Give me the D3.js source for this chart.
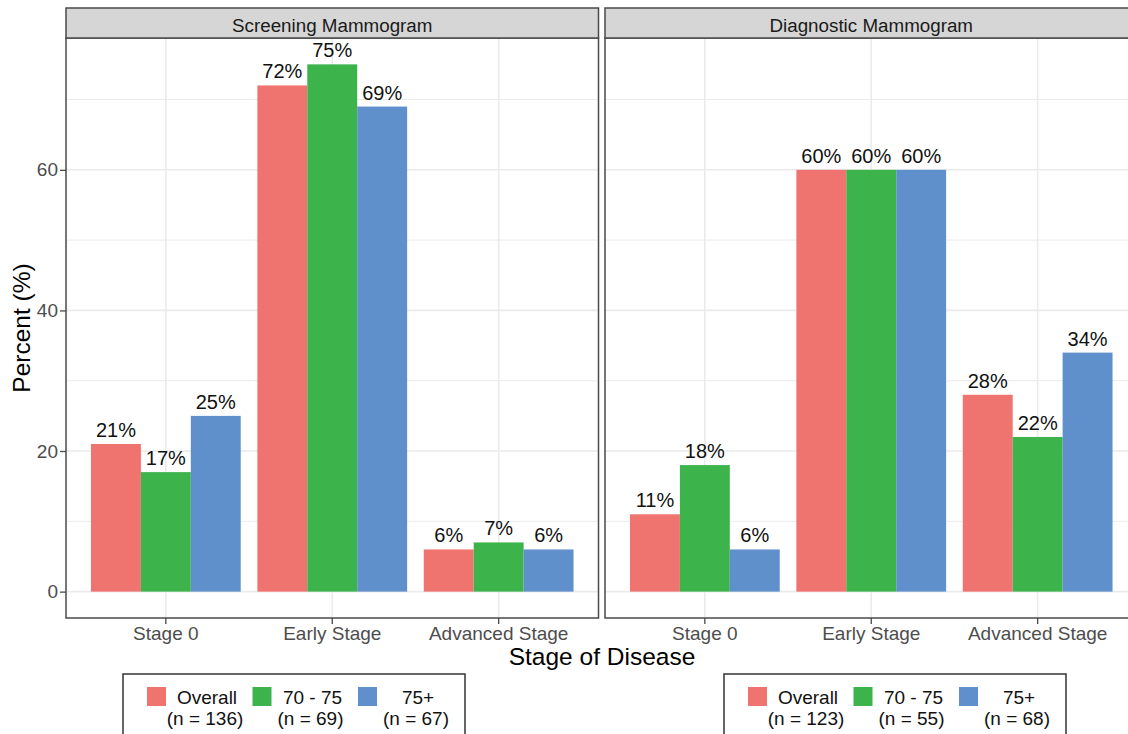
<!DOCTYPE html>
<html>
<head>
<meta charset="utf-8">
<script src="https://cdn.jsdelivr.net/npm/d3@7"></script>
<style>
  html, body { margin: 0; padding: 0; background: #fff; }
  svg { display: block; font-family: "Liberation Sans", Arial, sans-serif; }
</style>
</head>
<body>
<svg id="chart" width="1128" height="734"></svg>
<script>
// ---- data ----
const stages = ["Stage 0", "Early Stage", "Advanced Stage"];
const ageGroups = ["Overall", "70 - 75", "75+"];
const groupColors = ["#EF746F", "#3CB44B", "#6090CB"];
const yTicks = [0, 20, 40, 60];
const yMinorTicks = [10, 30, 50, 70];

const panelTitles = ["Screening Mammogram", "Diagnostic Mammogram"];
// percent per stage, one array per age group
const screeningOverall = [21, 72, 6];
const screening7075 = [17, 75, 7];
const screening75plus = [25, 69, 6];
const diagnosticOverall = [11, 60, 28];
const diagnostic7075 = [18, 60, 22];
const diagnostic75plus = [6, 60, 34];
// sample sizes shown in each legend
const screeningN = [136, 69, 67];
const diagnosticN = [123, 55, 68];

const panels = [
  { title: panelTitles[0], series: [screeningOverall, screening7075, screening75plus], n: screeningN },
  { title: panelTitles[1], series: [diagnosticOverall, diagnostic7075, diagnostic75plus], n: diagnosticN }
];

// ---- layout ----
const svg = d3.select("#chart");
const stripTop = 8, panelTop = 38, panelBottom = 618;
const panelWidth = 532.5;
const panelLefts = [66, 605];
const legendCenters = [294, 895];
const legendTop = 674;

const yMax = d3.max(panels.flatMap(p => p.series.flat()));
const yPad = yMax * 0.05;
const y = d3.scaleLinear().domain([-yPad, yMax + yPad]).range([panelBottom, panelTop]);

const inkAxis = "#4D4D4D";
const gridCol = "#EBEBEB";
const borderCol = "#4A4A4A";

panels.forEach((p, pi) => {
  const x0 = panelLefts[pi], x1 = x0 + panelWidth;
  const x = d3.scaleBand().domain(stages).range([x0, x1]).paddingInner(0.1).paddingOuter(0.15);
  const xg = d3.scaleBand().domain(ageGroups).range([0, x.bandwidth()]);
  const center = s => x(s) + x.bandwidth() / 2;

  const g = svg.append("g");

  // gridlines
  g.selectAll(".minor").data(yMinorTicks).join("line")
    .attr("x1", x0).attr("x2", x1).attr("y1", d => y(d)).attr("y2", d => y(d))
    .attr("stroke", gridCol).attr("stroke-width", 1);
  g.selectAll(".major").data(yTicks).join("line")
    .attr("x1", x0).attr("x2", x1).attr("y1", d => y(d)).attr("y2", d => y(d))
    .attr("stroke", gridCol).attr("stroke-width", 1.6);
  g.selectAll(".vmajor").data(stages).join("line")
    .attr("x1", d => center(d)).attr("x2", d => center(d)).attr("y1", panelTop).attr("y2", panelBottom)
    .attr("stroke", gridCol).attr("stroke-width", 1.6);

  // bars
  const rows = [];
  p.series.forEach((vals, gi) => vals.forEach((v, si) => rows.push({ stage: stages[si], group: ageGroups[gi], gi, v })));
  g.selectAll("rect.bar").data(rows).join("rect")
    .attr("x", d => x(d.stage) + xg(d.group))
    .attr("width", xg.bandwidth())
    .attr("y", d => y(d.v))
    .attr("height", d => y(0) - y(d.v))
    .attr("fill", d => groupColors[d.gi]);

  // value labels
  g.selectAll("text.val").data(rows).join("text")
    .attr("x", d => x(d.stage) + xg(d.group) + xg.bandwidth() / 2)
    .attr("y", d => y(d.v) - 7)
    .attr("text-anchor", "middle")
    .attr("font-size", 20)
    .attr("fill", "#111")
    .text(d => d.v + "%");

  // panel border
  g.append("rect").attr("x", x0).attr("y", panelTop).attr("width", panelWidth).attr("height", panelBottom - panelTop)
    .attr("fill", "none").attr("stroke", borderCol).attr("stroke-width", 1.5);

  // strip
  g.append("rect").attr("x", x0).attr("y", stripTop).attr("width", panelWidth).attr("height", panelTop - stripTop)
    .attr("fill", "#D6D6D6").attr("stroke", borderCol).attr("stroke-width", 1.5);
  g.append("text").attr("x", (x0 + x1) / 2).attr("y", 31.5).attr("text-anchor", "middle")
    .attr("font-size", 18.8).attr("fill", "#1A1A1A").text(p.title);

  // x axis
  const xAxis = d3.axisBottom(x).tickSize(6).tickPadding(3);
  const ax = g.append("g").attr("transform", `translate(0,${panelBottom})`).call(xAxis);
  ax.select(".domain").remove();
  ax.selectAll(".tick line").attr("stroke", borderCol).attr("stroke-width", 1.3);
  ax.selectAll(".tick text").attr("font-size", 19).attr("fill", inkAxis)
    .attr("font-family", "Liberation Sans, Arial, sans-serif");

  // y axis on first panel only
  if (pi === 0) {
    const yAxis = d3.axisLeft(y).tickValues(yTicks).tickSize(6).tickPadding(2);
    const ay = g.append("g").attr("transform", `translate(${x0},0)`).call(yAxis);
    ay.select(".domain").remove();
    ay.selectAll(".tick line").attr("stroke", borderCol).attr("stroke-width", 1.3);
    ay.selectAll(".tick text").attr("font-size", 19).attr("fill", inkAxis)
      .attr("font-family", "Liberation Sans, Arial, sans-serif");
  }

  // legend
  const pitch = 105.5, keySize = 19;
  const boxW = 342, boxH = 70;
  const bx = legendCenters[pi] - boxW / 2;
  const lg = g.append("g");
  lg.append("rect").attr("x", bx).attr("y", legendTop).attr("width", boxW).attr("height", boxH)
    .attr("fill", "#fff").attr("stroke", "#333").attr("stroke-width", 1.5);
  const itemStart = bx + 24;
  ageGroups.forEach((name, gi) => {
    const ix = itemStart + gi * pitch;
    lg.append("rect").attr("x", ix).attr("y", legendTop + 13).attr("width", keySize).attr("height", keySize)
      .attr("fill", groupColors[gi]);
    const t = lg.append("text").attr("text-anchor", "middle").attr("font-size", 19).attr("fill", "#111");
    t.append("tspan").attr("x", ix + 60).attr("y", legendTop + 30).text(name);
    t.append("tspan").attr("x", ix + 58).attr("y", legendTop + 51).text(`(n = ${p.n[gi]})`);
  });
});

// axis titles
svg.append("text").attr("x", 602).attr("y", 665).attr("text-anchor", "middle")
  .attr("font-size", 24.5).attr("fill", "#000").text("Stage of Disease");
svg.append("text").attr("transform", `translate(30,${(panelTop + panelBottom) / 2}) rotate(-90)`)
  .attr("text-anchor", "middle").attr("font-size", 24.5).attr("fill", "#000").text("Percent (%)");
</script>
</body>
</html>
